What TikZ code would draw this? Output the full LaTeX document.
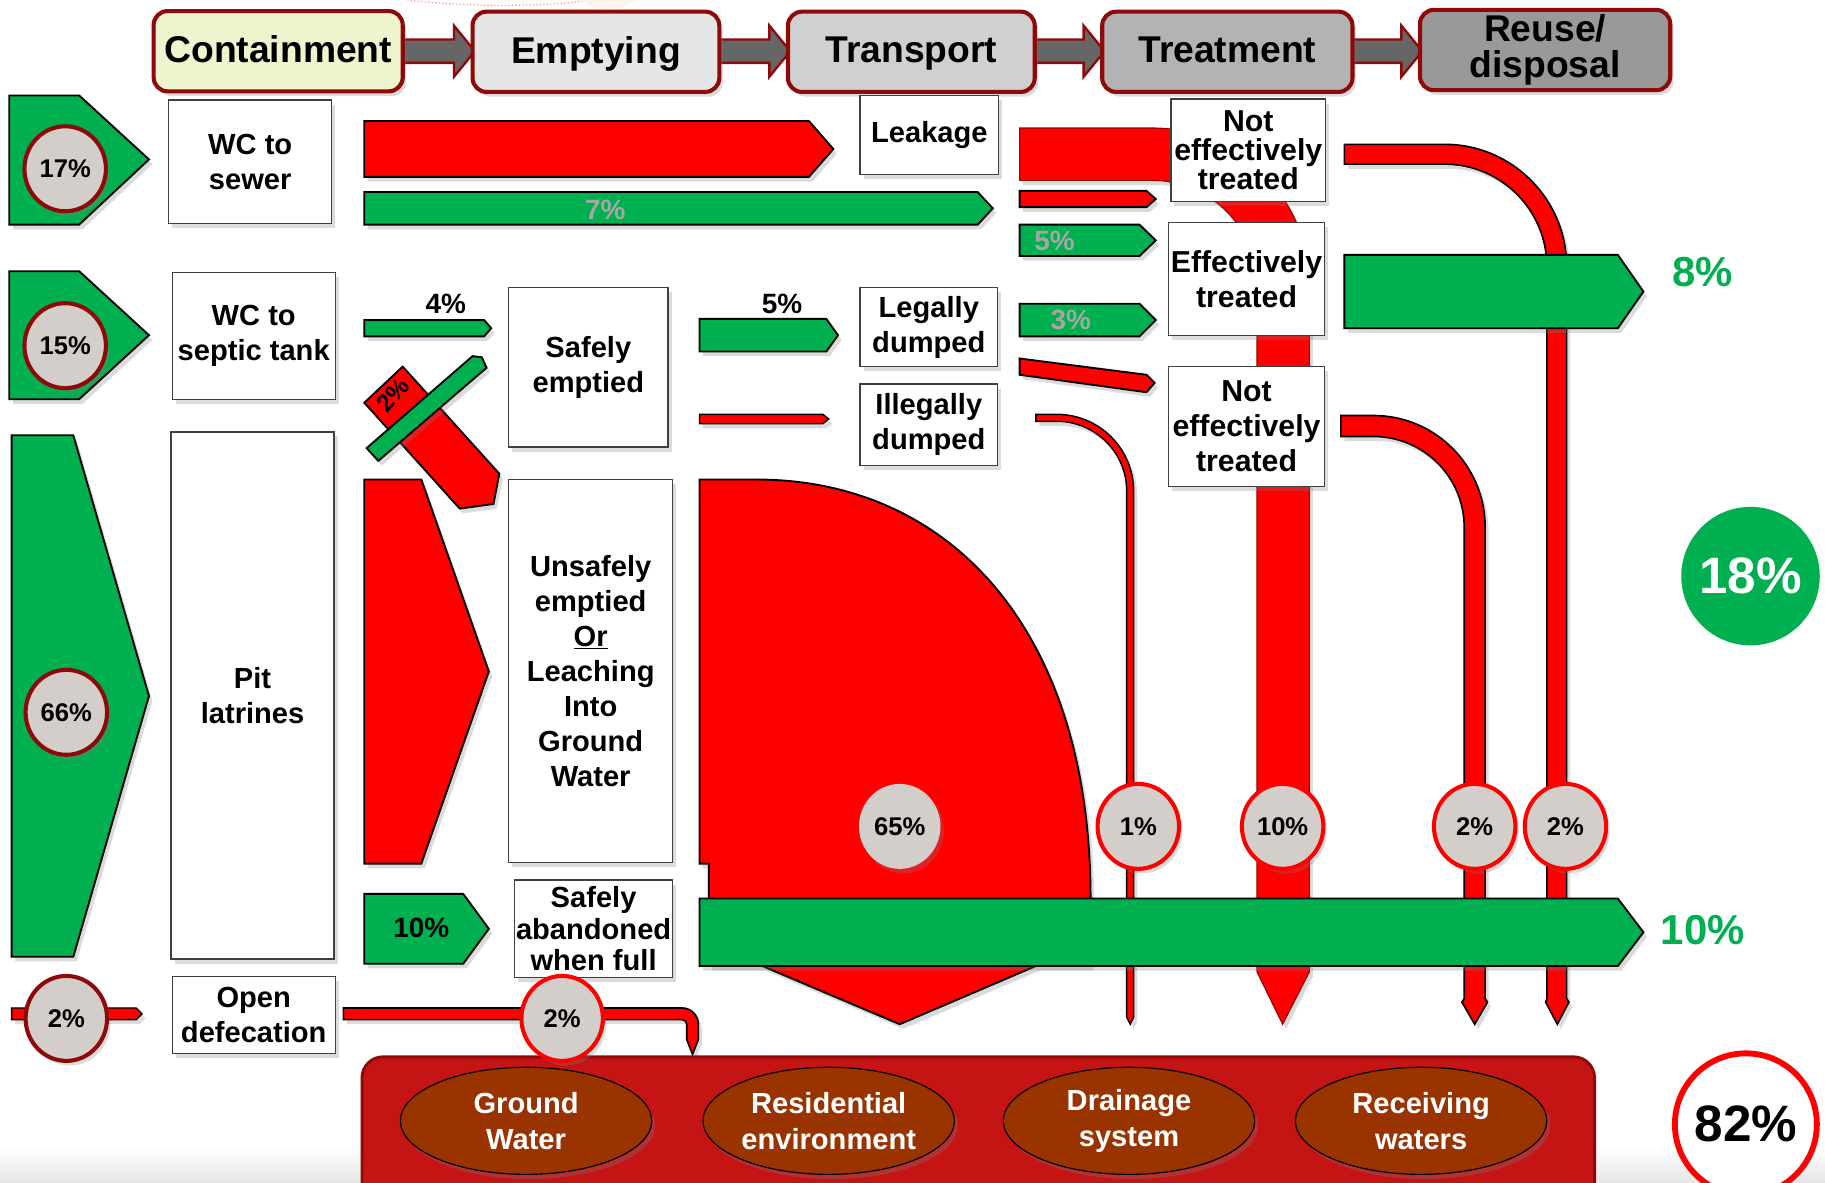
\documentclass[tikz,border=0pt]{standalone}
\usepackage{fontspec}
\setmainfont{Liberation Sans}
\usetikzlibrary{shapes.geometric,shadows}
\definecolor{grn}{HTML}{00AF50}
\definecolor{rd}{HTML}{FF0000}
\definecolor{dkred}{HTML}{8E0A0A}
\definecolor{pctgray}{HTML}{D3CECA}
\definecolor{soil}{HTML}{993300}
\definecolor{sink}{HTML}{C41414}
\definecolor{arrgray}{HTML}{666666}
\definecolor{lblgray}{HTML}{A6A6A6}
\definecolor{hcA}{HTML}{EEF5CE}
\definecolor{hcB}{HTML}{E6E6E6}
\definecolor{hcC}{HTML}{D0D0D0}
\definecolor{hcD}{HTML}{B3B3B3}
\definecolor{hcE}{HTML}{999999}
\tikzset{
  shd/.style={drop shadow={opacity=0.28,shadow xshift=3pt,shadow yshift=-4pt}},
  box/.style={draw=black!75,line width=1.2pt,fill=white,shd,align=center,inner sep=0pt,font=\fontsize{25}{30}\selectfont\bfseries},
  hdr/.style={draw=dkred,line width=3.5pt,rounded corners=12pt,minimum height=69pt,inner sep=0pt,align=center,font=\fontsize{32}{33}\selectfont\bfseries,shd},
  grarr/.style={fill=grn,draw=black,line width=1.6pt,shd},
  rdarr/.style={fill=rd,draw=black,line width=1.6pt,shd},
  pctc/.style={ellipse,minimum width=70pt,minimum height=73pt,inner sep=0pt,fill=pctgray,line width=3.5pt,shd,font=\fontsize{22}{22}\selectfont\bfseries},
  lbl/.style={font=\fontsize{24}{24}\selectfont\bfseries,inner sep=0pt},
  biglbl/.style={font=\fontsize{36}{36}\selectfont\bfseries,inner sep=0pt,text=grn},
  sinkell/.style={ellipse,minimum width=216pt,minimum height=92pt,inner sep=0pt,fill=soil,draw=black,line width=1pt,shd,text=white,align=center,font=\fontsize{25}{31}\selectfont\bfseries},
}
\newcommand\rarr[6]{\draw[#1] (#2,#3) -- ({#4-#6},#3) -- (#4,{(#3+#5)/2}) -- ({#4-#6},#5) -- (#2,#5) -- cycle;}
\newcommand\harr[2]{\draw[fill=arrgray,draw=dkred,line width=2pt] (#1,34) -- ({#2-18},34) -- ({#2-18},22) -- (#2,44) -- ({#2-18},66) -- ({#2-18},54) -- (#1,54) -- cycle;}
\newcommand\mybox[7][]{\node[box,#1,minimum width={(#5-#3)*1pt},minimum height={(#6-#4)*1pt}] (#2) at ({(#3+#5)/2},{(#4+#6)/2}) {#7};}
\begin{document}
\begin{tikzpicture}[x=1pt,y=-1pt]
\useasboundingbox (0,0) rectangle (1568,1016);
\clip (0,0) rectangle (1568,1016);
\fill[white] (0,0) rectangle (1568,1016);
\shade[top color=white,bottom color=black!10] (0,985) rectangle (1568,1016);
% faint remnants at the top
\fill[black!6!orange!8!white] (522,-32) circle (40);
\draw[rd!45,dotted,line width=1pt] (350,0) .. controls (400,6) and (460,6) .. (500,1);

% ---------- header ----------
\harr{340}{408} \harr{612}{679} \harr{883}{949} \harr{1156}{1222}
\node[hdr,fill=hcA,minimum width=214pt,text depth=3pt] (hcont) at (239,44) {Containment};
\node[hdr,fill=hcB,minimum width=212pt,text depth=3pt] (hempt) at (512,44.5) {Emptying};
\node[hdr,fill=hcC,minimum width=212pt,text depth=3pt] (htrans) at (783,44.5) {Transport};
\node[hdr,fill=hcD,minimum width=215pt,text depth=3pt] (htreat) at (1054.5,44.5) {Treatment};
\node[hdr,fill=hcE,minimum width=215pt,font=\fontsize{32}{31}\selectfont\bfseries] (hreuse) at (1327.5,43) {Reuse/\\disposal};

% ---------- background flows ----------
% leakage band into treatment column
\draw[fill=rd,draw=red!60!black,line width=1pt,shd] (876,110) -- (990,110) arc[start angle=-90,end angle=0,radius=135] -- (1125,835) -- (1102,880) -- (1080,835) -- (1080,245) arc[start angle=0,end angle=-90,radius=90] -- (876,155) -- cycle;
% not effectively treated (1) to disposal
\draw[rdarr,line width=1.4pt] (1155,124) -- (1241,124) arc[start angle=-90,end angle=0,radius=105] -- (1346,858) -- (1348,861) -- (1338,880) -- (1328,861) -- (1329,858) -- (1329,229) arc[start angle=0,end angle=-90,radius=88] -- (1155,141) -- cycle;
% not effectively treated (2) to disposal
\draw[rdarr,line width=1.4pt] (1152,357) -- (1180,357) arc[start angle=-90,end angle=0,radius=96] -- (1276,858) -- (1278,861) -- (1267,880) -- (1256,861) -- (1258,858) -- (1258,453) arc[start angle=0,end angle=-90,radius=78] -- (1180,375) -- (1152,375) -- cycle;
% illegally dumped thin flow
\draw[rdarr,line width=1.2pt] (890,356) -- (908,356) arc[start angle=-90,end angle=0,radius=66] -- (974,874) -- (971,880) -- (968,874) -- (968,422) arc[start angle=0,end angle=-90,radius=60] -- (890,362) -- cycle;
% 65% unsafe flow
\draw[rdarr] (601,412) -- (650,412) .. controls (815,412) and (937,540) .. (937,772) -- (937,830) -- (890,830) -- (773,880) -- (655,830) -- (609,830) -- (609,742) -- (601,742) -- cycle;

% ---------- row 1: WC to sewer ----------
\draw[grarr] (8,82) -- (68,82) -- (128,137) -- (68,193) -- (8,193) -- cycle;
\node[pctc,draw=dkred] (p17) at (56,145) {17\%};
\mybox{wcsewer}{145}{86}{285}{192}{WC to\\sewer}
\rarr{rdarr}{313}{104}{716}{152}{21}
\rarr{grarr}{313}{165}{853}{193}{13}
\node[lbl,text=lblgray] (l7) at (520,180) {7\%};
\mybox{leak}{739}{82}{858}{150}{Leakage}
\rarr{rdarr}{876}{164}{993}{178}{8}
\rarr{grarr}{876}{193}{993}{220}{14}
\node[lbl,text=lblgray] (l5b) at (906,207) {5\%};
\rarr{grarr}{876}{261}{993}{289}{14}
\node[lbl,text=lblgray] (l3) at (920,275) {3\%};
\draw[rdarr] (876,308) -- (985,322) -- (992,329) -- (985,337) -- (876,322) -- cycle;
\mybox[font=\fontsize{26}{25}\selectfont\bfseries]{net1}{1006}{85}{1139}{173}{Not\\effectively\\treated}
\mybox[font=\fontsize{26}{30}\selectfont\bfseries]{et}{1004}{191}{1138}{288}{Effectively\\treated}
\mybox[font=\fontsize{26}{30}\selectfont\bfseries]{net2}{1004}{315}{1138}{418}{Not\\effectively\\treated}
\rarr{grarr}{1155}{219}{1412}{282}{22}
\node[biglbl] (l8) at (1463,234) {8\%};

% ---------- row 2: septic tank ----------
\draw[grarr] (8,233) -- (68,233) -- (128,288) -- (68,343) -- (8,343) -- cycle;
\node[pctc,draw=dkred] (p15) at (56,297) {15\%};
\mybox{wcseptic}{148}{234}{288}{343}{WC to\\septic tank}
\rarr{grarr}{313}{275}{422}{289}{6}
\node[lbl] (l4) at (383,261) {4\%};
\draw[rdarr] (313,346) -- (346,315) -- (429,407) -- (424,433) -- (395,437) -- cycle;
\draw[grarr] (315,385) -- (406,306) -- (414,307) -- (418,316) -- (325,396) -- cycle;
\node[lbl,rotate=48,font=\fontsize{21}{21}\selectfont\bfseries] (l2d) at (338,339) {2\%};
\mybox{safe}{437}{247}{574}{384}{Safely\\emptied}
\rarr{grarr}{601}{274}{720}{302}{10}
\node[lbl] (l5a) at (672,261) {5\%};
\rarr{rdarr,line width=1.2pt}{601}{356}{712}{364}{5}
\mybox{legal}{739}{247}{857}{315}{Legally\\dumped}
\mybox{illegal}{739}{330}{857}{400}{Illegally\\dumped}

% ---------- row 3: pit latrines ----------
\draw[grarr] (10,374) -- (63,374) -- (128,598) -- (63,822) -- (10,822) -- cycle;
\node[pctc,draw=dkred] (p66) at (57,612) {66\%};
\mybox{pit}{147}{371}{287}{824}{Pit\\latrines}
\draw[rdarr] (313,412) -- (362,412) -- (420,577) -- (362,742) -- (313,742) -- cycle;
\mybox{unsafe}{437}{412}{578}{741}{Unsafely\\emptied\\\underline{Or}\\Leaching\\Into\\Ground\\Water}
\rarr{grarr}{313}{768}{420}{828}{22}
\node[lbl] (l10a) at (362,797) {10\%};
\mybox[font=\fontsize{25}{27}\selectfont\bfseries]{aband}{442}{756}{578}{840}{Safely\\abandoned\\when full}
\rarr{grarr}{601}{772}{1412}{830}{22}
\node[biglbl] (l10b) at (1463,799) {10\%};
\node[pctc,draw=none] (p65) at (773,710) {65\%};
\node[pctc,draw=rd] (p1) at (978,710) {1\%};
\node[pctc,draw=rd] (p10) at (1102,710) {10\%};
\node[pctc,draw=rd] (p2a) at (1267,710) {2\%};
\node[pctc,draw=rd] (p2b) at (1345,710) {2\%};

% ---------- row 4: open defecation ----------
\rarr{rdarr,line width=1.2pt}{10}{866}{122}{876}{5}
\node[pctc,draw=dkred] (p2o) at (57,875) {2\%};
\mybox{opendef}{148}{839}{288}{905}{Open\\defecation}
\draw[rdarr,line width=1.4pt] (295,866) -- (586,866) arc[start angle=-90,end angle=0,radius=14] -- (600,893) -- (595,906) -- (590,893) -- (590,880) arc[start angle=0,end angle=-90,radius=4] -- (295,876) -- cycle;

% ---------- sinks ----------
\draw[fill=sink,draw=dkred,line width=2.5pt,rounded corners=18pt] (311,908) rectangle (1370,1050);
\node[pctc,draw=rd] (p2od) at (483,875) {2\%};
\node[sinkell] (gw) at (452,963) {Ground\\Water};
\node[sinkell] (res) at (712,963) {Residential\\environment};
\node[sinkell] (drain) at (970,963) {Drainage\\system};
\node[sinkell] (recv) at (1221,963) {Receiving\\waters};

% ---------- totals ----------
\node[circle,fill=grn,minimum size=119pt,inner sep=0pt,text=white,font=\fontsize{44}{44}\selectfont\bfseries] (p18) at (1504,495) {18\%};
\node[circle,fill=white,draw=rd,line width=5pt,minimum size=122pt,inner sep=0pt,font=\fontsize{44}{44}\selectfont\bfseries] (p82) at (1500,966) {82\%};
\end{tikzpicture}
\end{document}
